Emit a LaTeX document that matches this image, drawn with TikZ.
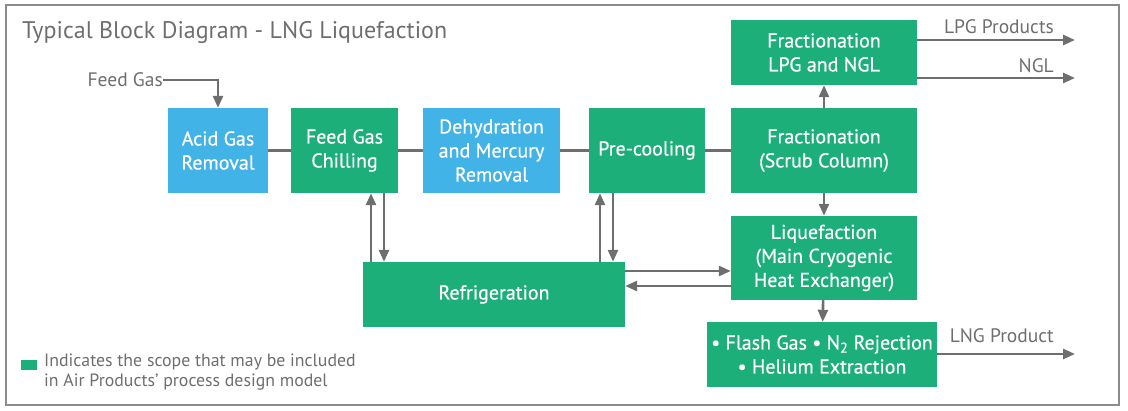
\documentclass[tikz,border=0pt]{standalone}
\usepackage{fontspec}
\setmainfont{PT Sans}
\newfontface\boxface{PT Sans}[FakeBold=0.5]
\usetikzlibrary{arrows.meta, positioning}
\definecolor{apgreen}{HTML}{1DAF7A}
\definecolor{apblue}{HTML}{41B3E6}
\definecolor{apgray}{HTML}{6E6E6E}
\definecolor{framegray}{HTML}{8C8C8C}

\begin{document}
\begin{tikzpicture}[x=1pt, y=1pt,
    unit/.style={rectangle, fill=apgreen, text=white, align=center, inner sep=0pt, font=\boxface\fontsize{20}{24}\selectfont},
    pretreat/.style={unit, fill=apblue},
    link/.style={draw=apgray, line width=2.6pt},
    flow/.style={link, -{Triangle[length=12pt, width=10pt]}},
    stream/.style={text=apgray, inner sep=0pt, font=\fontsize{19.5}{22}\selectfont}
]
\useasboundingbox (0,0) rectangle (1128,-411);
\draw[framegray, line width=1.5pt] (6,-5) rectangle (1119,-405);

% Title
\node[stream, anchor=west, font=\fontsize{24}{28}\selectfont] (title) at (22,-33) {Typical Block Diagram - LNG Liquefaction};

% Main train
\node[pretreat, minimum width=100pt, minimum height=85pt] (acid) at (218,-150.5) {Acid Gas\\Removal};
\node[unit, minimum width=107pt, minimum height=85pt] (chill) at (344.5,-150.5) {Feed Gas\\Chilling};
\node[pretreat, minimum width=137pt, minimum height=85pt] (dehyd) at (491.5,-150.5) {Dehydration\\and Mercury\\Removal};
\node[unit, minimum width=116pt, minimum height=85pt] (precool) at (647,-150.5) {Pre-cooling};
\node[unit, minimum width=186pt, minimum height=85pt] (scrub) at (824,-150.5) {Fractionation\\(Scrub Column)};
\node[unit, minimum width=186pt, minimum height=65pt] (lpgngl) at (824,-52.5) {Fractionation\\LPG and NGL};
\node[unit, minimum width=186pt, minimum height=84pt] (liq) at (824,-258) {Liquefaction\\(Main Cryogenic\\Heat Exchanger)};
\node[unit, minimum width=230pt, minimum height=65pt] (flash) at (822,-354.5) {• Flash Gas • N\textsubscript{2} Rejection\\• Helium Extraction};
\node[unit, minimum width=262pt, minimum height=65pt] (refrig) at (494,-294.5) {Refrigeration};

% Feed gas in
\node[stream, anchor=east] (feed) at (163,-80) {Feed Gas};
\draw[flow] (feed.east) -| (acid.north);

% Links along the train
\draw[link] (acid) -- (chill);
\draw[link] (chill) -- (dehyd);
\draw[link] (dehyd) -- (precool);
\draw[link] (precool) -- (scrub);
\draw[flow] (scrub) -- (lpgngl);
\draw[flow] (scrub) -- (liq);
\draw[flow] (liq) -- (flash);

% Refrigeration loops
\coordinate (c1) at ([xshift=26.5pt]chill.south);
\coordinate (c2) at ([xshift=39.5pt]chill.south);
\coordinate (p1) at ([xshift=-47pt]precool.south);
\coordinate (p2) at ([xshift=-34pt]precool.south);
\draw[flow] (c1 |- refrig.north) -- (c1);
\draw[flow] (c2) -- (c2 |- refrig.north);
\draw[flow] (p1 |- refrig.north) -- (p1);
\draw[flow] (p2) -- (p2 |- refrig.north);
\coordinate (r1) at ([yshift=23.5pt]refrig.east);
\coordinate (r2) at ([yshift=8.5pt]refrig.east);
\draw[flow] (r1) -- (r1 -| liq.west);
\draw[flow] (r2 -| liq.west) -- (r2);

% Products
\coordinate (lpgend) at (1075,-40);
\coordinate (nglend) at (1075,-78);
\coordinate (lngend) at (1075,-354);
\draw[flow] (lpgend -| lpgngl.east) -- (lpgend);
\draw[flow] (nglend -| lpgngl.east) -- (nglend);
\draw[flow] (flash.east |- lngend) -- (lngend);
\node[stream, anchor=east] (lpg) at (1054,-27) {LPG Products};
\node[stream, anchor=east] (ngl) at (1054,-66) {NGL};
\node[stream, anchor=east] (lng) at (1054,-336) {LNG Product};

% Legend
\node[fill=apgreen, minimum width=16pt, minimum height=10pt, inner sep=0pt] (key) at (29,-365.5) {};
\node[stream, anchor=north west, align=left, font=\fontsize{17.8}{20}\selectfont] (keytext) at (44,-354) {Indicates the scope that may be included\\in Air Products' process design model};
\end{tikzpicture}
\end{document}
